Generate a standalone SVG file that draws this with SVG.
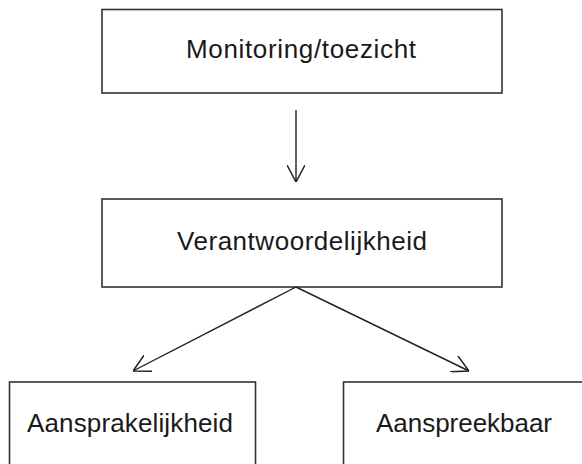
<svg xmlns="http://www.w3.org/2000/svg" width="582" height="464" viewBox="0 0 582 464">
<style>
.box{fill:#fff;stroke:#333;stroke-width:1.6}
.lbl{font-family:"Liberation Sans",Arial,sans-serif;font-size:26px;fill:#1a1a1a;text-anchor:middle}
.conn{stroke:#222;stroke-width:1.4;fill:none}
</style>
<defs>
<marker id="ah" viewBox="0 0 17 18" refX="17" refY="9" markerWidth="17" markerHeight="18" markerUnits="userSpaceOnUse" orient="auto">
<path d="M0,0 L17,9 L0,18" fill="none" stroke="#222" stroke-width="1.5"/>
</marker>
</defs>
<rect width="582" height="464" fill="#fff"/>
<g id="monitoring">
<rect class="box" x="102" y="9.5" width="400" height="83.5"/>
<text class="lbl" x="301" y="58" textLength="230" lengthAdjust="spacing">Monitoring/toezicht</text>
</g>
<g id="verantwoordelijkheid">
<rect class="box" x="102" y="199" width="400" height="88"/>
<text class="lbl" x="302" y="250" textLength="250" lengthAdjust="spacing">Verantwoordelijkheid</text>
</g>
<g id="aansprakelijkheid">
<rect class="box" x="9.5" y="382" width="246" height="100"/>
<text class="lbl" x="130" y="432" textLength="206" lengthAdjust="spacing">Aansprakelijkheid</text>
</g>
<g id="aanspreekbaar">
<rect class="box" x="343.5" y="382" width="260" height="100"/>
<text class="lbl" x="464" y="432" textLength="176" lengthAdjust="spacing">Aanspreekbaar</text>
</g>
<g id="connectors">
<line class="conn" x1="296" y1="110" x2="296" y2="182" marker-end="url(#ah)"/>
<line class="conn" x1="296" y1="287" x2="133" y2="371" marker-end="url(#ah)"/>
<line class="conn" x1="296" y1="287" x2="469" y2="371" marker-end="url(#ah)"/>
</g>
</svg>
